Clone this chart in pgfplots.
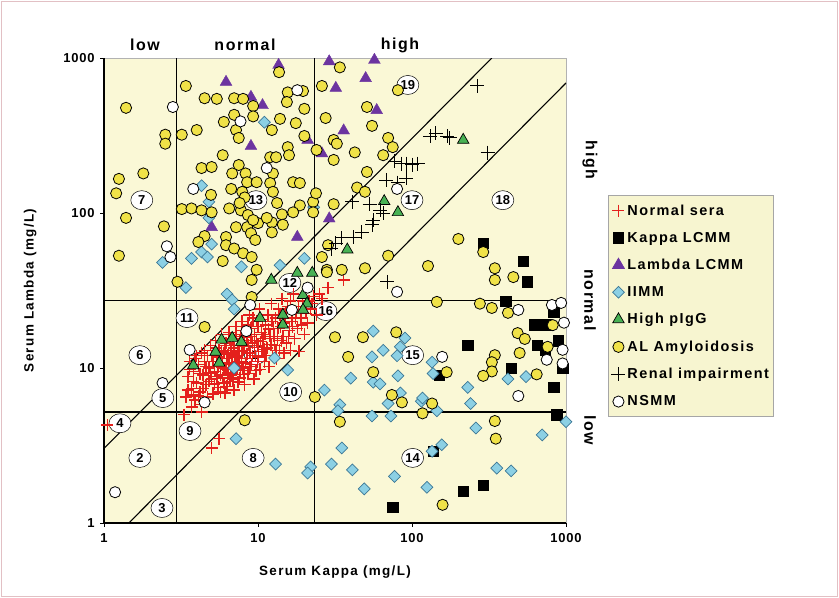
\documentclass[border=0pt]{standalone}
\usepackage{fontspec}
\setmainfont{Liberation Sans}
\newfontfamily\lsf[LetterSpace=10]{Liberation Sans}
\newfontfamily\lsg[LetterSpace=6]{Liberation Sans}
\usepackage{pgfplots}
\pgfplotsset{compat=1.18}
\usetikzlibrary{shapes.geometric}
\definecolor{bgy}{RGB}{250,248,214}
\definecolor{legy}{RGB}{247,245,208}
\definecolor{nred}{RGB}{228,32,28}
\definecolor{lpurple}{RGB}{108,52,160}
\definecolor{iblue}{RGB}{140,208,228}
\definecolor{iblueedge}{RGB}{60,120,150}
\definecolor{pgreen}{RGB}{72,178,84}
\definecolor{alyellow}{RGB}{240,226,72}
\definecolor{frame}{RGB}{226,192,196}

\pgfplotstableread{
k l
3.4 6.5
3.5 8.8
3.6 11
3.7 7.4
3.8 9.5
3.9 6.2
4.0 8
4.0 12
4.1 10.5
4.2 7
4.3 5.8
4.4 9
4.5 13
4.5 11
4.6 7.8
4.7 6.5
4.8 10
4.9 14
5.0 8.5
5.0 12
5.1 6.8
5.2 9.5
5.3 15
5.4 11
5.5 7.5
5.6 13
5.7 9
5.8 16.5
5.9 10.5
6.0 8
6.0 12.5
6.1 6.9
6.2 14.5
6.3 11.5
6.4 9.3
6.5 17
6.6 8.2
6.7 13
6.8 10.5
6.9 15.5
7.0 7.2
7.1 12
7.2 18.5
7.3 9.8
7.4 14
7.5 11
7.6 8.6
7.7 16
7.8 12.8
7.9 20
8.0 10
8.1 13.8
8.2 7.8
8.3 17.5
8.4 11.5
8.5 15
8.6 9.2
8.8 22
8.9 12.5
9.0 18
9.1 10.5
9.2 14.5
9.4 8.5
9.5 16.5
9.6 12
9.8 20
9.9 11
10 14
10.2 24
10.3 9.8
10.5 17
10.6 12.8
10.8 15.5
11 11
11.2 19
11.4 13.5
11.6 22
11.8 10.2
12 16
12.2 26
12.4 12
12.6 18
12.8 14
13 21
13.2 11.5
13.4 15.5
13.6 24
13.8 13
14 18.5
14.3 28
14.5 16
14.8 12.5
15 21
15.3 14.5
15.6 25
16 17.5
16.3 13
16.6 20
17 30
17.3 15.5
17.6 23
18 18
18.5 12.8
19 21
19.5 27
20 16.5
21 19.5
22 24
23 29
24 22
3.5 7.2
3.6 9.8
3.8 8.2
3.9 11.5
4.1 6.6
4.2 9.2
4.3 12.5
4.4 7.4
4.6 10.2
4.7 12
4.8 8.2
4.9 9.3
5.1 11
5.2 7.9
5.3 13.5
5.4 8.8
5.5 10.2
5.6 11.8
5.7 7.0
5.8 12.8
5.9 8.6
6.0 10
6.1 14
6.2 9.8
6.3 7.6
6.4 12.2
6.5 10.8
6.6 15.5
6.7 9
6.8 11.8
6.9 8.4
7.0 13.5
7.1 10
7.2 16.5
7.3 11.8
7.4 8.1
7.5 12.9
7.6 15
7.7 9.6
7.8 11
7.9 17.5
8.0 13
8.1 9.1
8.2 15.8
8.3 10.8
8.5 12.4
8.6 19
8.7 14
8.9 10.2
9.0 16
9.2 12
9.3 21
9.5 13.6
9.7 9.6
9.8 15
10 18.5
10.1 11.8
10.4 14.8
10.7 20.5
10.9 13.2
11.1 16.5
11.3 12
11.7 17.8
12.1 14.2
12.3 20
12.7 16
13.1 13
13.5 18
13.9 22
14.2 15
14.7 19.5
15.2 23
15.8 16
16.2 27
16.8 18.5
17.5 21
18.3 25
19.2 19
20.5 22.5
21.5 27
22.5 26
25 30
26 28
1.05 4.3
3.3 5.0
3.7 5.6
4.3 5.2
5.6 3.5
5.0 3.05
3.8 6.7
28.5 33
36 37
}\normalsera

\pgfplotstableread{
k l
290 64
527 49
560 36
405 27
830 23
620 19
740 19
890 15
650 14
730 13
950 10
230 14
440 10
830 7.5
870 5
150 9
137 2.9
215 1.6
290 1.75
75 1.27
}\kappalcmm

\pgfplotstableread{
k l
6.2 700
13.6 900
29 950
57 970
50 740
32 640
9 560
10.7 495
59 460
36 340
9 270
21 296
26 242
29 92
5 81
18 70
}\lambdalcmm

\pgfplotstableread{
k l
11 385
4.3 150
4.8 118
4.8 93
23 109
5 63
2.4 48
3.7 51
4.3 56
4.7 52
7.8 45
13.9 46
20 51
3.4 33
6.3 30
6.8 27.5
7 24
7 10
12.8 11.6
15.6 9.7
56 17.3
65 13
55 11.8
90 15.6
84 13.7
80 12
40 8.6
56 8.1
62 7.9
81 8.9
135 10.9
137 9.2
230 7.5
420 8.5
550 8.8
27 7.2
34 5.8
33 5.3
55 4.9
73 4.9
70 5.9
84 6.9
115 6.1
145 5.3
240 5.9
117 6.4
7.2 3.5
13 2.4
22 2.3
21 2.1
30 2.4
35 3.05
41 2.2
49 1.66
77 2
125 1.7
156 3.2
135 2.9
260 4.1
355 2.26
440 2.17
700 3.7
1000 4.5
}\iimm

\pgfplotstableread{
k l
3.8 10.4
5.3 12.7
5.6 10.8
5.8 15.2
6.8 15.6
7.8 14.7
10.3 21
14.5 22
14.5 19
12.2 37
18 41
22.5 41
19.6 29.5
20.8 26
19.6 23.7
38 58
66 119
81 101
215 296
}\pigg

\pgfplotstableread{
k l
1.39 477
2.5 320
2.5 280
3.2 320
1.8 180
1.25 166
1.2 134
1.39 93
2.45 82
1.25 53
3 36
3.4 660
4.5 550
5.4 545
7 550
8 545
9.3 490
13.7 810
15.6 600
19.6 612
15.4 520
20 470
6 387
7 430
7.2 343
7.5 305
9.3 420
13.9 405
17.6 380
12.3 343
20 314
4 343
5.9 236
15.6 266
15.9 236
12 229
13.1 229
4.3 195
5 198
7.5 204
6.8 180
8.3 180
12.5 180
8.5 158
9.8 158
12 156
16.9 158
18.7 156
6.7 143
7.9 137
12.5 137
4.95 131
8.2 126
13.3 116
18.7 112
22.8 118
22.8 101
3.2 106
3.7 107
4.3 104
5 101
6.5 107
7.75 104
8.6 97
14.3 98
16.9 101
10 86
12.3 87
8.5 81
7.2 81
12.3 75
14.5 84
9.3 90
11.4 93
7.6 116
4.5 71
4.1 65
6.2 70
6.2 62
7 59
9 74
9.6 67
8 55
5.9 49
9.1 52
9.8 43
9.1 37
4.5 18.4
9.1 28.7
34 870
26 660
51 483
27.5 410
55 365
31 296
32.5 280
42.5 246
24 255
31 220
70 305
75 266
65 236
51 184
44 146
49.5 137
23.8 134
31 114
81 620
28.5 62
26 52
28 43
49.5 44
70 53
35 43
127 45.5
200 68
290 56
345 44
345 37
455 38.6
145 26.7
276 26
330 24.4
420 22.7
79 17
31.6 15.8
48 15.8
38.5 11.8
56 9.4
23.4 6.5
34 4.5
74 6.7
86 6
135 5.9
117 5.1
168 9.4
345 4.55
350 3.5
158 1.31
345 12.1
330 10.9
330 9.5
290 8.9
485 16.8
540 15.4
500 12.5
760 13.7
645 9.1
820 18.9
8.2 4.6
28 41.5
}\alamy

\pgfplotstableread{
k l
265 660
131 313
143 328
170 313
176 305
310 245
77 216
86 208
92 208
100 205
109 208
92 167
68 163
81 157
41 118
53 114
62 104
65 100
56 90
55 84
47 75
42 70
35 69
32 64
30 59
69 36
}\renal

\pgfplotstableread{
k l
2.8 483
7.7 390
18 620
3.8 143
11.4 195
2.56 61
2.7 52
80 143
21 33
16.6 23.7
8.9 25.5
8.4 17.3
3.6 13.1
2.4 8
4.5 6
1.18 1.58
80 31
490 23.7
810 25.5
930 26.3
970 19.6
950 13.1
950 10.7
750 11.3
157 11.8
490 6.6
}\nsmm

\begin{document}
\begin{tikzpicture}
\path[use as bounding box] (0bp,0bp) rectangle (839bp,598bp);
\draw[frame, line width=1.2bp] (1.5bp,1.5bp) rectangle (837.5bp,596.5bp);
\begin{axis}[
  at={(104bp,75bp)}, anchor=south west, scale only axis,
  width=462bp, height=465bp,
  xmode=log, ymode=log, xmin=1, xmax=1000, ymin=1, ymax=1000,
  xtick={1,10,100,1000}, xticklabels={1,10,100,1000},
  ytick={1,10,100,1000}, yticklabels={1,10,100,1000},
  xminorticks=false, yminorticks=false,
  axis x line*=bottom, axis y line*=left,
  axis line style={black, line width=1.2bp, -},
  axis background/.style={fill=bgy, draw=gray!60, line width=0.8bp},
  tick align=outside, major tick length=4bp,
  tick style={black, line width=0.8bp},
  ticklabel style={font=\lsg\bfseries\fontsize{13}{14}\selectfont},
  xticklabel style={yshift=-3bp},
  yticklabel style={xshift=-2bp},
  xlabel={Serum Kappa (mg/L)}, ylabel={Serum Lambda (mg/L)},
  label style={font=\lsf\bfseries\fontsize{13.5}{15}\selectfont},
  xlabel style={at={(axis description cs:0.5,-0.105)}, anchor=center},
  ylabel style={at={(axis description cs:-0.16,0.5)}, anchor=center},
  legend style={at={(1.091,0.705)}, anchor=north west, fill=legy,
    draw=gray!70, line width=0.8bp,
    font=\lsf\bfseries\fontsize{14.5}{16}\selectfont,
    row sep=11.5bp, inner xsep=3bp, inner ysep=7bp},
  legend cell align=left,
  clip=true,
]
% reference lines
\addplot[black, line width=1.1bp, forget plot] coordinates {(2.97,1) (2.97,1000)};
\addplot[black, line width=1.1bp, forget plot] coordinates {(23.4,1) (23.4,1000)};
\addplot[black, line width=1.1bp, forget plot] coordinates {(1,27.2) (1000,27.2)};
\addplot[black, line width=1.1bp, forget plot] coordinates {(1,5.2) (1000,5.2)};
\addplot[black, line width=1.1bp, forget plot] coordinates {(1,3.03) (330,1000)};
\addplot[black, line width=1.1bp, forget plot] coordinates {(1.45,1) (1000,690)};

\addplot[only marks, mark=+, mark size=6bp, nred, mark options={line width=1.5bp}] table {\normalsera};
\addlegendentry{Normal sera}
\addplot[only marks, mark=square*, mark size=5.2bp, black] table {\kappalcmm};
\addlegendentry{Kappa LCMM}
\addplot[only marks, mark=triangle*, mark size=6.8bp, lpurple] table {\lambdalcmm};
\addlegendentry{Lambda LCMM}
\addplot[only marks, mark=square*, mark size=4.2bp, mark options={rotate=45, fill=iblue, draw=iblueedge, line width=0.7bp}] table {\iimm};
\addlegendentry{IIMM}
\addplot[only marks, mark=triangle*, mark size=6.6bp, mark options={fill=pgreen, draw=black, line width=0.7bp}] table {\pigg};
\addlegendentry{High pIgG}
\addplot[only marks, mark=*, mark size=5.6bp, mark options={fill=alyellow, draw=black, line width=0.8bp}] table {\alamy};
\addlegendentry{AL Amyloidosis}
\addplot[only marks, mark=+, mark size=7bp, black, mark options={line width=1bp}] table {\renal};
\addlegendentry{Renal impairment}
\addplot[only marks, mark=*, mark size=5.6bp, mark options={fill=white, draw=black, line width=0.8bp}] table {\nsmm};
\addlegendentry{NSMM}

\tikzset{lbl/.style={ellipse, draw=black, line width=0.5bp, fill=white, inner sep=0.5bp, minimum width=22bp, minimum height=19bp, font=\bfseries\fontsize{13}{14}\selectfont}}
\node[lbl] at (axis cs:9.6,12.1) {1};
\node[lbl] at (axis cs:1.71,2.63) {2};
\node[lbl] at (axis cs:2.38,1.25) {3};
\node[lbl] at (axis cs:1.27,4.4) {4};
\node[lbl] at (axis cs:2.41,6.4) {5};
\node[lbl] at (axis cs:1.71,12.1) {6};
\node[lbl] at (axis cs:1.76,121) {7};
\node[lbl] at (axis cs:9.3,2.63) {8};
\node[lbl] at (axis cs:3.62,3.92) {9};
\node[lbl] at (axis cs:16.3,7) {10};
\node[lbl] at (axis cs:3.46,21) {11};
\node[lbl] at (axis cs:16.1,35.4) {12};
\node[lbl] at (axis cs:9.7,121) {13};
\node[lbl] at (axis cs:101,2.63) {14};
\node[lbl] at (axis cs:101,12.1) {15};
\node[lbl] at (axis cs:27.6,23.3) {16};
\node[lbl] at (axis cs:100,121) {17};
\node[lbl] at (axis cs:389,121) {18};
\node[lbl] at (axis cs:94,670) {19};
\end{axis}
\begin{scope}[font=\lsf\bfseries\fontsize{16}{18}\selectfont]
\node at (145bp,553bp) {low};
\node at (245bp,553bp) {normal};
\node at (400bp,553bp) {high};
\node[rotate=-90] at (590bp,438bp) {high};
\node[rotate=-90] at (590bp,298bp) {normal};
\node[rotate=-90] at (590bp,168bp) {low};
\end{scope}
\end{tikzpicture}
\end{document}
